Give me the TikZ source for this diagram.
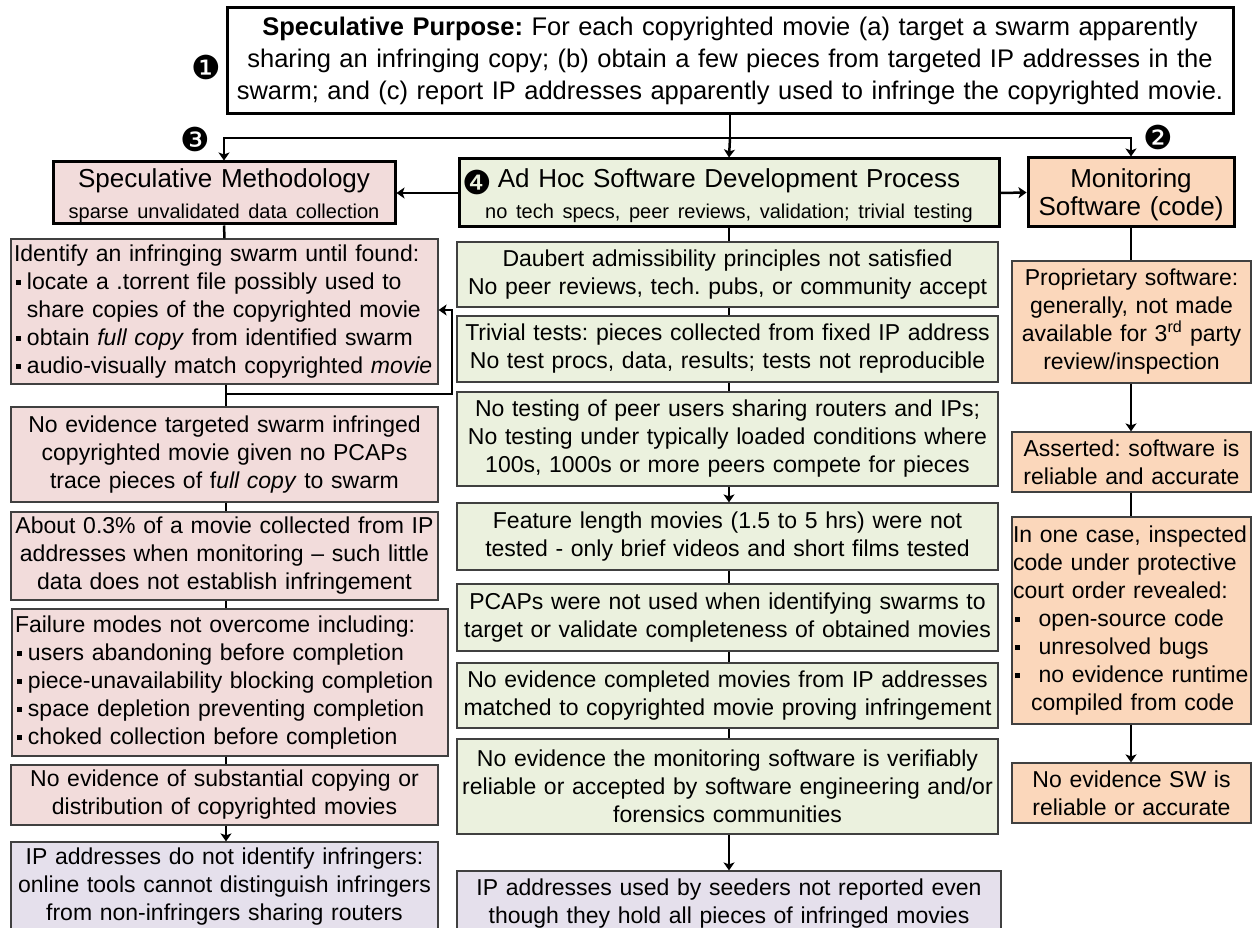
\documentclass[tikz,border=0pt]{standalone}
\usepackage{fontspec}
\setmainfont{Liberation Sans}
\newfontfamily\djv{DejaVu Sans}
\usetikzlibrary{arrows.meta}
\definecolor{pinkc}{HTML}{F2DCDB}
\definecolor{greenc}{HTML}{EBF1DE}
\definecolor{peachc}{HTML}{FBD7BB}
\definecolor{lavc}{HTML}{E5E0EC}
\definecolor{edgec}{HTML}{404040}
\newcommand\fs[2]{\fontsize{#1}{#2}\selectfont}
\newcommand\bul[1][11pt]{\hspace*{2pt}\makebox[#1][l]{\rule[4.5pt]{5pt}{5pt}}}
\hyphenpenalty=10000
\exhyphenpenalty=10000
\hbadness=10000
\hfuzz=50pt
\frenchspacing
\begin{document}
\begin{tikzpicture}[x=1pt,y=-1pt,
  box/.style={draw=edgec, line width=1.2pt, inner xsep=3pt, inner ysep=0pt, align=center, font=\fs{23}{28}},
  bigbox/.style={draw=black, line width=3pt, inner xsep=3pt, inner ysep=0pt, align=center},
  pinkb/.style={box, fill=pinkc},
  greenb/.style={box, fill=greenc},
  peachb/.style={box, fill=peachc},
  lavb/.style={box, fill=lavc},
  conn/.style={line width=2.5pt, draw=black},
  arr/.style={conn, -{Stealth[length=8pt,width=11pt,inset=2pt]}},
  num/.style={inner sep=0pt, font=\djv\fs{33}{33}}
]
\useasboundingbox (0,0) rectangle (1253,928);

% top
\node[bigbox, fill=white, text width=1000pt, minimum height=106pt, font=\fs{25.5}{32}] (top) at (730,61)
 {\textbf{Speculative Purpose:} For each copyrighted movie (a) target a swarm apparently\\
  sharing an infringing copy; (b) obtain a few pieces from targeted IP addresses in the\\
  swarm; and (c) report IP addresses apparently used to infringe the copyrighted movie.};
\node[num] (n1) at (206,67) {❶};

% headers
\node[bigbox, fill=pinkc, text width=336pt, minimum height=62pt, font=\fs{26}{28}] (sm) at (224,193)
 {\rule{0pt}{25pt}Speculative Methodology\\[3pt] {\fs{20}{24}sparse unvalidated data collection}};
\node[bigbox, fill=greenc, text width=534pt, minimum height=68pt, font=\fs{26}{28}] (mh) at (729,193)
 {\rule{0pt}{25pt}Ad Hoc Software Development Process\\[3pt] {\fs{20}{24}no tech specs, peer reviews, validation; trivial testing}};
\node[bigbox, fill=peachc, text width=200pt, minimum height=69pt, font=\fs{26}{28}] (mon) at (1131,192.5)
 {\rule{0pt}{24pt}Monitoring\\ Software (code)};
\node[num] (n3) at (195,139) {❸};
\node[num] (n2) at (1158,137) {❷};
\node[num] (n4) at (477,182) {❹};

% left column
\node[pinkb, text width=421pt, minimum height=145pt, align=left] (l1) at (224.5,311.5)
 {Identify an infringing swarm until found:\\
  \bul locate a .torrent file possibly used to\\
  \hspace*{13pt}share copies of the copyrighted movie\\
  \bul obtain \textit{full copy} from identified swarm\\
  \bul audio-visually match copyrighted \textit{movie}};
\node[pinkb, text width=421pt, minimum height=95pt] (l2) at (224.5,454.5)
 {No evidence targeted swarm infringed\\ copyrighted movie given no PCAPs\\ trace pieces of f\textit{ull copy} to swarm};
\node[pinkb, text width=421pt, minimum height=88pt] (l3) at (224.5,556)
 {About 0.3\% of a movie collected from IP\\ addresses when monitoring -- such little\\ data does not establish infringement};
\node[pinkb, text width=430pt, minimum height=147pt, align=left] (l4) at (230,682.5)
 {Failure modes not overcome including:\\
  \bul users abandoning before completion\\
  \bul piece-unavailability blocking completion\\
  \bul space depletion preventing completion\\
  \bul choked collection before completion};
\node[pinkb, text width=421pt, minimum height=60pt] (l5) at (224.5,795)
 {No evidence of substantial copying or\\ distribution of copyrighted movies};
\node[lavb, text width=421pt, minimum height=90pt] (l6) at (224.5,887)
 {IP addresses do not identify infringers:\\ online tools cannot distinguish infringers\\ from non-infringers sharing routers\\[4pt]};

% middle column
\node[greenb, text width=535pt, minimum height=65pt] (m1) at (727.5,274.5)
 {Daubert admissibility principles not satisfied\\ No peer reviews, tech. pubs, or community accept};
\node[greenb, text width=535pt, minimum height=66pt] (m2) at (727.5,349)
 {Trivial tests: pieces collected from fixed IP address\\ No test procs, data, results; tests not reproducible};
\node[greenb, text width=535pt, minimum height=94pt] (m3) at (727.5,439)
 {No testing of peer users sharing routers and IPs;\\ No testing under typically loaded conditions where\\ 100s, 1000s or more peers compete for pieces};
\node[greenb, text width=535pt, minimum height=67pt] (m4) at (727.5,536.5)
 {Feature length movies (1.5 to 5 hrs) were not\\ tested - only brief videos and short films tested};
\node[greenb, text width=535pt, minimum height=67pt] (m5) at (727.5,617.5)
 {PCAPs were not used when identifying swarms to\\ target or validate completeness of obtained movies};
\node[greenb, text width=535pt, minimum height=65pt] (m6) at (727.5,695.5)
 {No evidence completed movies from IP addresses\\ matched to copyrighted movie proving infringement};
\node[greenb, text width=535pt, minimum height=95pt] (m7) at (727.5,786.5)
 {No evidence the monitoring software is verifiably\\ reliable or accepted by software engineering and/or\\ forensics communities};
\node[lavb, text width=538pt, minimum height=66pt] (m8) at (729,904)
 {IP addresses used by seeders not reported even\\ though they hold all pieces of infringed movies\\[4pt]};

% right column
\node[peachb, text width=233pt, minimum height=122pt] (r1) at (1131.5,322)
 {Proprietary software:\\ generally, not made\\ available for 3\textsuperscript{rd} party\\ review/inspection};
\node[peachb, text width=233pt, minimum height=60pt] (r2) at (1131.5,462)
 {Asserted: software is\\ reliable and accurate};
\node[peachb, text width=237pt, inner xsep=1pt, minimum height=207pt, align=left] (r3) at (1131.5,620.5)
 {In one case, inspected\\ code under protective\\ court order revealed:\\
  \bul[16pt] open-source code\\ \bul[16pt] unresolved bugs\\ \bul[16pt] no evidence runtime\\
  \hspace*{18pt}compiled from code};
\node[peachb, text width=233pt, minimum height=60pt] (r4) at (1131.5,793)
 {No evidence SW is\\ reliable or accurate};

% connectors from top
\coordinate (j) at (730,138);
\draw[conn] (top.south) -- (j);
\draw[arr] (j) -- (mh.north);
\draw[arr] (j) -| (sm.north);
\draw[arr] (j) -| (mon.north);
\draw[arr] (mh.west) -- (sm.east);
\draw[arr] (mh.east) -- (mon.west);

% left
\draw[conn] (sm.south) -- (l1.north);
\coordinate (lb) at (226,394);
\coordinate (lr) at (452,394);
\coordinate (lu) at (452,310);
\draw[conn] (l1.south -| lb) -- (l2.north -| lb);
\draw[arr] (lb) -- (lr) -- (lu) -- (lu -| l1.east);
\draw[conn] (l2.south -| lb) -- (l3.north -| lb);
\draw[conn] (l3.south -| lb) -- (l4.north -| lb);
\draw[conn] (l4.south -| lb) -- (l5.north -| lb);
\draw[arr] (l5.south -| lb) -- (l6.north -| lb);

% middle
\draw[conn] (mh.south) -- (m1.north -| mh.south);
\draw[conn] (m1.south -| mh.south) -- (m2.north -| mh.south);
\draw[conn] (m2.south -| mh.south) -- (m3.north -| mh.south);
\draw[arr] (m3.south -| mh.south) -- (m4.north -| mh.south);
\draw[conn] (m4.south -| mh.south) -- (m5.north -| mh.south);
\draw[conn] (m5.south -| mh.south) -- (m6.north -| mh.south);
\draw[conn] (m6.south -| mh.south) -- (m7.north -| mh.south);
\draw[arr] (m7.south -| mh.south) -- (m8.north -| mh.south);

% right
\draw[conn] (mon.south) -- (r1.north -| mon.south);
\draw[arr] (r1.south -| mon.south) -- (r2.north -| mon.south);
\draw[conn] (r2.south -| mon.south) -- (r3.north -| mon.south);
\draw[arr] (r3.south -| mon.south) -- (r4.north -| mon.south);
\end{tikzpicture}
\end{document}
